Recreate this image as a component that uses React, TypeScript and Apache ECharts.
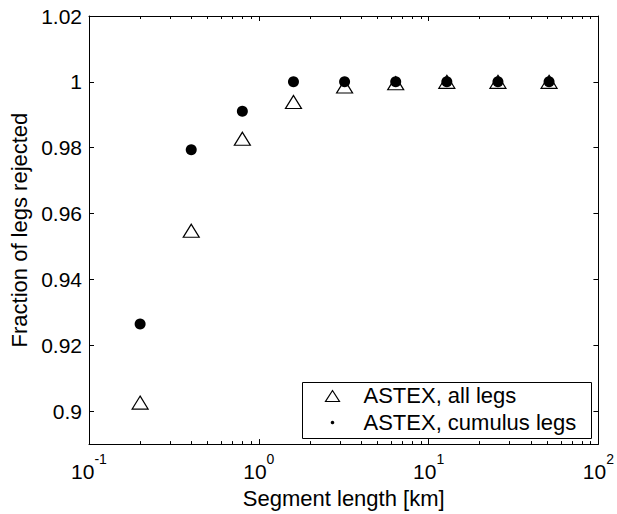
import React, { useEffect, useRef } from "react";
import * as echarts from "echarts";

const segmentLengths = [0.2, 0.4, 0.8, 1.6, 3.2, 6.4, 12.8, 25.6, 51.2];
const allLegs = [0.9026, 0.9548, 0.9827, 0.9939, 0.9986, 0.9996, 1.0, 1.0, 1.0];
const cumulusLegs = [0.9265, 0.9794, 0.9911, 1.0, 1.0, 1.0, 1.0, 1.0, 1.0];
const yTicks = [0.9, 0.92, 0.94, 0.96, 0.98, 1, 1.02];
const xMajorTicks = [0.1, 1, 10, 100];
const xMinorTicks = [
  0.2, 0.3, 0.4, 0.5, 0.6, 0.7, 0.8, 0.9,
  2, 3, 4, 5, 6, 7, 8, 9,
  20, 30, 40, 50, 60, 70, 80, 90,
];
const legendNames = ["ASTEX, all legs", "ASTEX, cumulus legs"];

const FONT = "'Liberation Sans', Arial, Helvetica, sans-serif";

export default function App() {
  const ref = useRef<HTMLDivElement>(null);
  useEffect(() => {
    if (!ref.current) return;
    const chart = echarts.init(ref.current, undefined, { renderer: "svg" });
    const axisLine = { show: true, lineStyle: { color: "#000", width: 1 } };
    const baseX = {
      type: "log" as const,
      logBase: 10,
      min: 0.1,
      max: 100,
      axisLine,
      splitLine: { show: false },
    };
    const baseY = {
      type: "value" as const,
      min: 0.89,
      max: 1.02,
      axisLine,
      splitLine: { show: false },
    };
    chart.setOption({
      animation: false,
      textStyle: { fontFamily: FONT },
      grid: { left: 89, right: 16, top: 16, bottom: 67, containLabel: false },
      xAxis: [
        {
          ...baseX,
          position: "bottom",
          name: "Segment length [km]",
          nameLocation: "middle",
          nameGap: 40,
          nameTextStyle: { fontSize: 22, color: "#000", fontFamily: FONT },
          axisTick: { show: true, inside: true, length: 5, customValues: xMajorTicks, lineStyle: { color: "#000" } },
          axisLabel: {
            show: true,
            customValues: xMajorTicks,
            margin: 8,
            color: "#000",
            formatter: (v: number) => `{b|10}{s|${Math.round(Math.log10(v))}}`,
            rich: {
              b: { fontSize: 21, lineHeight: 30, verticalAlign: "bottom", color: "#000", fontFamily: FONT },
              s: { fontSize: 14, lineHeight: 14, verticalAlign: "top", color: "#000", fontFamily: FONT },
            },
          },
        },
        {
          ...baseX,
          position: "top",
          axisTick: { show: true, inside: true, length: 5, customValues: xMajorTicks, lineStyle: { color: "#000" } },
          axisLabel: { show: false },
        },
        {
          ...baseX,
          position: "bottom",
          axisLine: { show: false },
          axisTick: { show: true, inside: true, length: 3, customValues: xMinorTicks, lineStyle: { color: "#000" } },
          axisLabel: { show: false },
        },
        {
          ...baseX,
          position: "top",
          axisLine: { show: false },
          axisTick: { show: true, inside: true, length: 3, customValues: xMinorTicks, lineStyle: { color: "#000" } },
          axisLabel: { show: false },
        },
      ],
      yAxis: [
        {
          ...baseY,
          position: "left",
          name: "Fraction of legs rejected",
          nameLocation: "middle",
          nameRotate: 90,
          nameGap: 53,
          nameTextStyle: { fontSize: 22, color: "#000", fontFamily: FONT },
          axisTick: { show: true, inside: true, length: 5, customValues: yTicks, lineStyle: { color: "#000" } },
          axisLabel: {
            show: true,
            customValues: yTicks,
            margin: 7,
            fontSize: 21,
            color: "#000",
            fontFamily: FONT,
            formatter: (v: number) => String(parseFloat(v.toFixed(4))),
          },
        },
        {
          ...baseY,
          position: "right",
          axisTick: { show: true, inside: true, length: 5, customValues: yTicks, lineStyle: { color: "#000" } },
          axisLabel: { show: false },
        },
      ],
      series: [
        {
          name: legendNames[0],
          type: "scatter",
          xAxisIndex: 0,
          yAxisIndex: 0,
          symbol: "triangle",
          symbolSize: [16, 13],
          itemStyle: { color: "#fff", borderColor: "#000", borderWidth: 1.2, opacity: 1 },
          data: segmentLengths.map((x, i) => [x, allLegs[i]]),
          z: 2,
        },
        {
          name: legendNames[1],
          type: "scatter",
          xAxisIndex: 0,
          yAxisIndex: 0,
          symbol: "circle",
          symbolSize: 11,
          itemStyle: { color: "#000", opacity: 1 },
          data: segmentLengths.map((x, i) => [x, cumulusLegs[i]]),
          z: 3,
        },
      ],
      graphic: [
        {
          type: "group",
          left: 302,
          top: 382,
          children: [
            { type: "rect", shape: { x: 0, y: 0, width: 289, height: 56 }, style: { fill: "#fff", stroke: "#000", lineWidth: 1 } },
            { type: "polygon", shape: { points: [[23, 19], [37, 19], [30, 8]] }, style: { fill: "#fff", stroke: "#000", lineWidth: 1.2 } },
            { type: "circle", shape: { cx: 30, cy: 40, r: 1.8 }, style: { fill: "#000" } },
            { type: "text", x: 61, y: 13, style: { text: legendNames[0], fontSize: 22, fontFamily: FONT, fill: "#000", verticalAlign: "middle" } },
            { type: "text", x: 61, y: 40, style: { text: legendNames[1], fontSize: 22, fontFamily: FONT, fill: "#000", verticalAlign: "middle" } },
          ],
        },
      ],
    });
    return () => chart.dispose();
  }, []);
  return <div ref={ref} style={{ width: 617, height: 514, position: "absolute", left: 0, top: 0, background: "#fff" }} />;
}
